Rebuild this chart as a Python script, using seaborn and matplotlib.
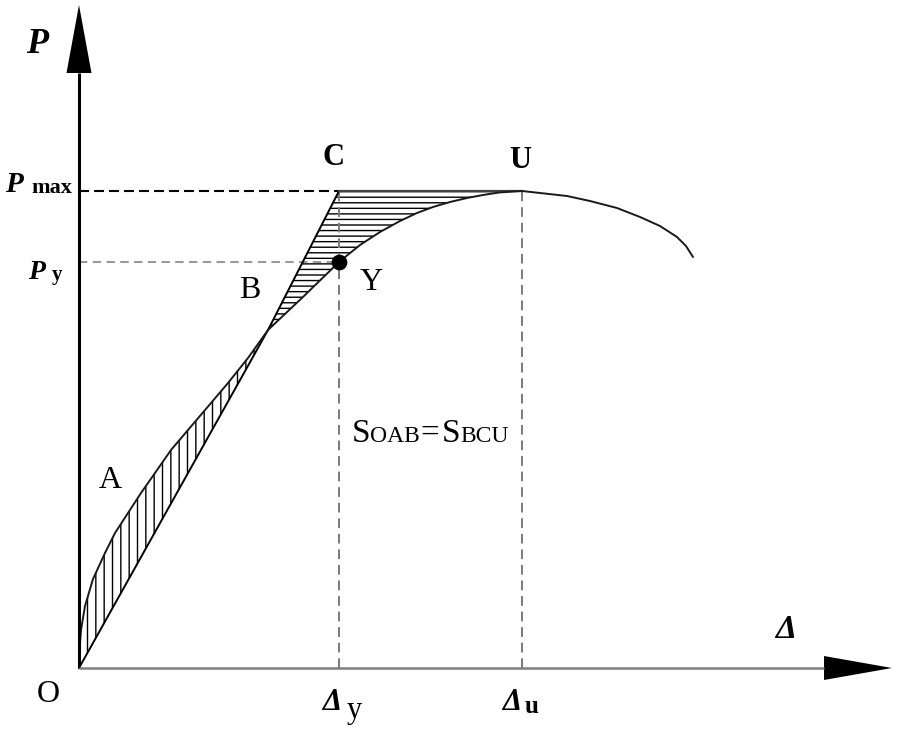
import numpy as np
import matplotlib
matplotlib.use("Agg")
import matplotlib.pyplot as plt
import seaborn as sns

# ---- data (pixel-like units: x = displacement, y = load) ----
curve_x = [0, 0.3, 2, 6, 14, 26, 36, 49, 62, 76, 92, 109, 132, 149, 169, 189, 225, 260,
           281, 301, 321, 338, 354, 371, 388, 404, 420, 443,
           461, 488, 511, 538, 561, 581, 598, 607, 614]
curve_y = [0, 15, 38, 62, 89, 115, 135, 155, 175, 195, 218, 238, 265, 285, 310, 338, 372, 406,
           423, 436, 447, 455, 461, 466, 470, 473, 475.5, 477,
           475, 472, 467, 460, 451, 442, 431, 422, 411]
P_max = 477
P_y = 406
D_y = 260
D_u = 443
B_x = 189
B_y = 338
axis_x_end = 813
axis_y_end = 663

sns.set_theme(style="white")
plt.rcParams['font.family'] = ['Liberation Serif', 'DejaVu Serif']
plt.rcParams['text.color'] = 'black'
plt.rcParams['hatch.linewidth'] = 1.0
plt.rcParams['hatch.color'] = 'black'

fig = plt.figure(figsize=(8.97, 7.33), dpi=100)
ax = fig.add_axes([0, 0, 1, 1])
ax.set_xlim(-79, 818)
ax.set_ylim(-65, 668)
ax.set_axis_off()

cx = np.array(curve_x, dtype=float)
cy = np.array(curve_y, dtype=float)

# region OAB : vertical hatch between line OB and curve
m1 = cx <= B_x
line1 = np.interp(cx[m1], [0, B_x], [0, B_y])
ax.fill_between(cx[m1], line1, cy[m1], facecolor='none', edgecolor='black',
                hatch='||', linewidth=0)

# region BCU : horizontal hatch between line B-C-U and curve
m2 = (cx >= B_x) & (cx <= D_u)
upper = np.interp(cx[m2], [B_x, D_y, D_u], [B_y, P_max, P_max])
ax.fill_between(cx[m2], cy[m2], upper, facecolor='none', edgecolor='black',
                hatch='---', linewidth=0)

# reference lines
ax.plot([0, D_y], [P_max, P_max], color='black', lw=1.5, linestyle=(0, (4.8, 2.4)))
ax.plot([0, D_y], [P_y, P_y], color='#7a7a7a', lw=1.1, linestyle=(0, (5.5, 3.5)))
ax.plot([D_y, D_y], [0, P_max], color='#7a7a7a', lw=1.4, linestyle=(0, (5, 3)))
ax.plot([D_u, D_u], [0, P_max], color='#7a7a7a', lw=1.4, linestyle=(0, (5, 3)))

# secant O-B-C and plateau C-U
ax.plot([0, B_x, D_y], [0, B_y, P_max], color='black', lw=1.4)
ax.plot([D_y, D_u], [P_max, P_max], color='#444444', lw=1.6)

# load-displacement curve
sns.lineplot(x=curve_x, y=curve_y, ax=ax, sort=False, estimator=None,
             color='#1a1a1a', linewidth=1.4)

# yield point
sns.scatterplot(x=[D_y], y=[P_y], ax=ax, color='black', s=110, edgecolor='black', zorder=5)

# axes with arrows
ax.plot([0, 0], [0, axis_y_end - 68], color='black', lw=2.2, solid_capstyle='butt')
ax.fill([-12.5, 12.5, 0], [axis_y_end - 68, axis_y_end - 68, axis_y_end], color='black', lw=0)
ax.plot([0, axis_x_end - 68], [0, 0], color='#808080', lw=1.8, solid_capstyle='butt')
ax.fill([axis_x_end - 68, axis_x_end - 68, axis_x_end], [-12, 12, 0], color='black', lw=0)

# labels
bi = dict(fontweight='bold', fontstyle='italic', color='black')
ax.text(-53, 615, 'P', fontsize=26, ha='left', va='baseline', **bi)
ax.text(-74, 476, 'P', fontsize=21, ha='left', va='baseline', **bi)
ax.text(-48, 475, 'max', fontsize=16, fontweight='bold', ha='left', va='baseline')
ax.text(-51, 389, 'P', fontsize=20, ha='left', va='baseline', **bi)
ax.text(-27, 388, 'y', fontsize=15, fontweight='bold', ha='left', va='baseline')

ax.text(254, 503, 'C', fontsize=22, fontweight='bold', ha='center', va='baseline')
ax.text(441, 500, 'U', fontsize=22, fontweight='bold', ha='center', va='baseline')
ax.text(171, 370, 'B', fontsize=23, ha='center', va='baseline')
ax.text(292, 378, 'Y', fontsize=23, ha='center', va='baseline')
ax.text(31, 180, 'A', fontsize=23, ha='center', va='baseline')
ax.text(-31, -34, 'O', fontsize=23, ha='center', va='baseline')

ax.text(273, 226, 'S', fontsize=24, ha='left', va='baseline')
ax.text(291, 226, 'OAB', fontsize=17, ha='left', va='baseline')
ax.text(341, 226, '=', fontsize=24, ha='left', va='baseline')
ax.text(363, 226, 'S', fontsize=24, ha='left', va='baseline')
ax.text(381, 226, 'BCU', fontsize=17, ha='left', va='baseline')

ax.text(696, 30, 'Δ', fontsize=24, ha='left', va='baseline', **bi)
ax.text(243, -42, 'Δ', fontsize=22, ha='left', va='baseline', **bi)
ax.text(268, -50, 'y', fontsize=22, ha='left', va='baseline')
ax.text(423, -42, 'Δ', fontsize=22, ha='left', va='baseline', **bi)
ax.text(446, -45, 'u', fontsize=18, fontweight='bold', ha='left', va='baseline')

fig.savefig('out.png', dpi=100, facecolor='white')
